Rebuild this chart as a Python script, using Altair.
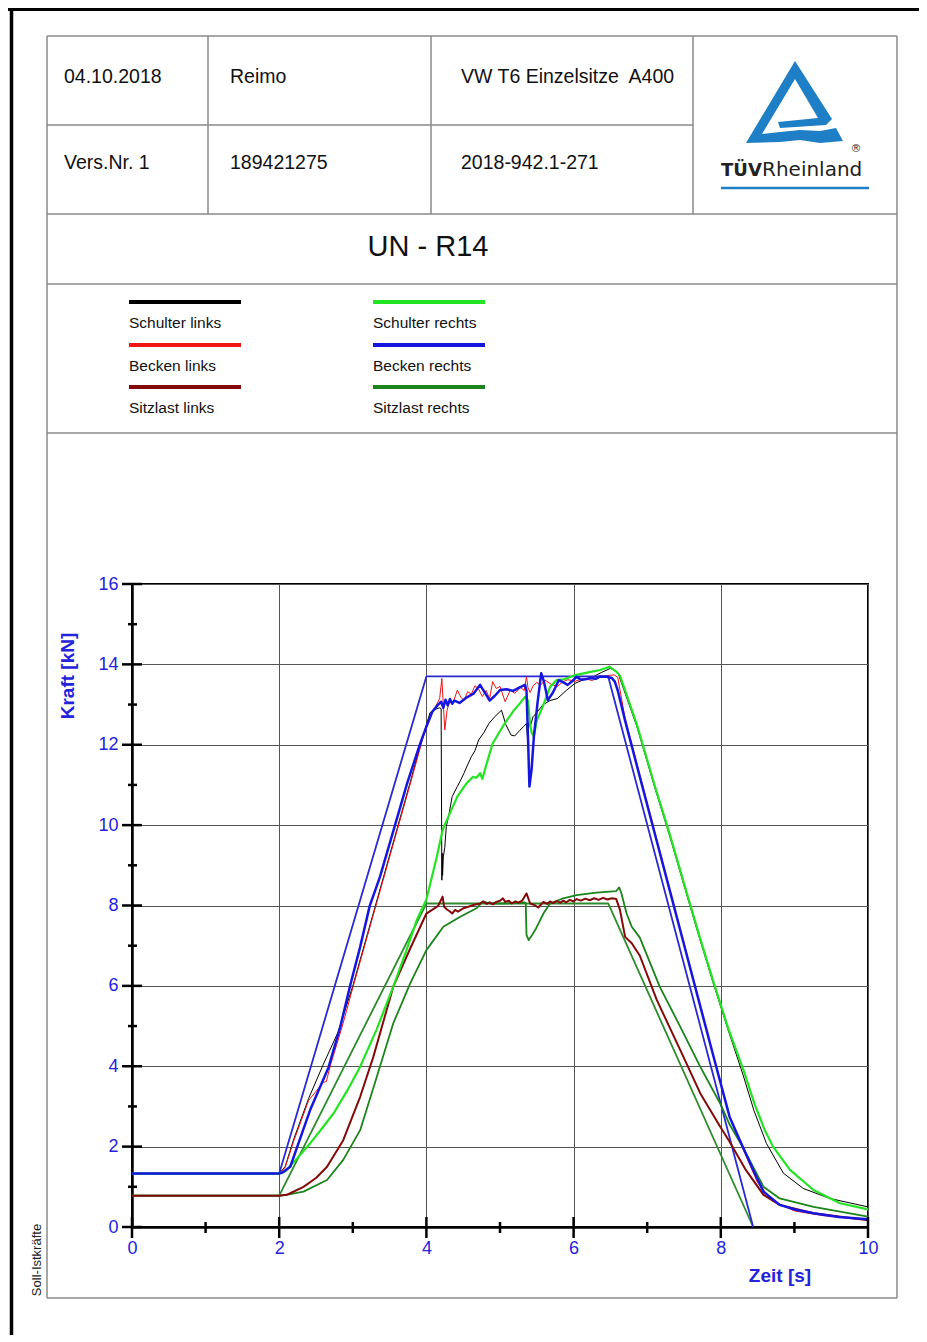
import altair as alt
import pandas as pd

FONT = "Liberation Sans"
AXIS_BLUE = "#2323dc"
LOGO_BLUE = "#1f7fc6"
TABLE_GREY = "#8a8a8a"

# ---------------- texts ----------------
header_row1 = ["04.10.2018", "Reimo", "VW T6 Einzelsitze\u00a0 A400"]
header_row2 = ["Vers.Nr. 1", "189421275", "2018-942.1-271"]
title_text = "UN - R14"
logo_bold = "TÜV"
logo_regular = "Rheinland"
side_label = "Soll-Istkräfte"
x_title = "Zeit [s]"
y_title = "Kraft [kN]"

series_names = ["Schulter links", "Becken links", "Sitzlast links",
                "Schulter rechts", "Becken rechts", "Sitzlast rechts"]
series_colors = ["#000000", "#f01414", "#840a0a", "#22e422", "#1616e0", "#1b841b"]
soll_colors = ["#2a2ad0", "#2e8b2e"]

x_ticks_major = [0, 2, 4, 6, 8, 10]
x_ticks_minor = [1, 3, 5, 7, 9]
y_ticks_major = [0, 2, 4, 6, 8, 10, 12, 14, 16]
y_ticks_minor = [1, 3, 5, 7, 9, 11, 13, 15]

# ---------------- data (time s, force kN) ----------------
t_soll = [0, 2.0, 4.0, 6.47, 8.44]
f_soll_sb = [1.33, 1.33, 13.7, 13.7, 0.0]
f_soll_sitz = [0.78, 0.78, 8.05, 8.05, 0.0]

# Becken rechts (blue)
t_br = [0, 2.0, 2.05, 2.15, 2.24, 2.42, 2.67, 2.83, 2.96, 3.10, 3.23, 3.37, 3.55, 3.74, 3.91,
        4.0, 4.08, 4.15, 4.2, 4.23, 4.26, 4.29, 4.32, 4.35, 4.38, 4.45, 4.55, 4.64, 4.73, 4.80,
        4.86, 4.93, 5.0, 5.09, 5.18, 5.26, 5.34, 5.36, 5.38, 5.40, 5.43, 5.46, 5.51, 5.56, 5.60,
        5.65, 5.72, 5.80, 5.86, 5.92, 5.98, 6.04, 6.10, 6.16, 6.24, 6.30, 6.36, 6.45, 6.52, 6.56,
        6.6, 6.7, 6.9, 7.1, 7.3, 7.5, 7.7, 7.9, 8.12, 8.26, 8.44, 8.58, 8.80, 9.02, 9.26, 9.60, 10.0]
f_br = [1.33, 1.33, 1.36, 1.50, 1.97, 2.91, 3.97, 4.98, 5.98, 6.97, 7.99, 8.72, 9.85, 11.05, 12.0,
        12.45, 12.82, 12.98, 13.07, 12.92, 13.12, 12.98, 13.14, 13.02, 13.10, 13.04, 13.18, 13.27, 13.49, 13.28,
        13.10, 13.22, 13.36, 13.38, 13.34, 13.42, 13.49, 13.35, 12.2, 10.96, 11.4, 12.20, 13.05, 13.78, 13.55,
        13.11, 13.3, 13.61, 13.55, 13.49, 13.58, 13.69, 13.62, 13.63, 13.66, 13.64, 13.70, 13.69, 13.66, 13.57,
        13.35, 12.6, 11.2, 9.81, 8.42, 7.03, 5.64, 4.25, 2.74, 2.15, 1.42, 0.88, 0.55, 0.43, 0.34, 0.25, 0.19]

# Becken links (red)
t_bl = [0, 2.0, 2.08, 2.2, 2.4, 2.6, 2.64, 2.7, 2.85, 3.0, 3.2, 3.4, 3.6, 3.8, 3.95, 4.05, 4.12,
        4.18, 4.21, 4.23, 4.25, 4.28, 4.32, 4.36, 4.42, 4.47, 4.51, 4.56, 4.61, 4.66, 4.71, 4.76,
        4.81, 4.86, 4.90, 4.95, 5.0, 5.07, 5.14, 5.2, 5.28, 5.33, 5.36, 5.38, 5.41, 5.45, 5.50,
        5.55, 5.61, 5.7, 5.78, 5.85, 5.92, 6.02, 6.14, 6.25, 6.36, 6.45, 6.55, 6.6, 6.7, 6.9, 7.1,
        7.3, 7.5, 7.7, 7.9, 8.12, 8.3, 8.5, 8.7, 9.0, 9.4, 10.0]
f_bl = [1.33, 1.33, 1.48, 2.15, 3.15, 3.6, 3.62, 4.05, 4.95, 5.95, 7.25, 8.55, 9.85, 11.15, 12.15, 12.7, 12.93,
        13.15, 13.65, 13.0, 12.37, 12.85, 13.12, 13.02, 13.36, 13.18, 13.1, 13.32, 13.26, 13.47, 13.38, 13.2,
        13.35, 13.15, 13.57, 13.4, 13.45, 13.07, 13.36, 13.28, 13.42, 13.35, 13.7, 13.42, 13.3, 13.47, 13.55,
        13.48, 13.61, 13.5, 13.45, 13.56, 13.62, 13.58, 13.65, 13.6, 13.68, 13.72, 13.74, 13.68, 12.65, 11.25, 9.85,
        8.45, 7.05, 5.65, 4.25, 2.74, 1.95, 1.1, 0.65, 0.4, 0.28, 0.19]

# Schulter links (black)
t_sl = [0, 2.0, 2.08, 2.2, 2.4, 2.6, 2.8, 3.0, 3.2, 3.4, 3.6, 3.8, 3.95, 4.05, 4.12, 4.18, 4.2,
        4.21, 4.215, 4.22, 4.23, 4.25, 4.27, 4.31, 4.35, 4.42, 4.46, 4.51, 4.56, 4.61, 4.66, 4.71,
        4.78, 4.85, 4.93, 5.02, 5.08, 5.15, 5.2, 5.27, 5.32, 5.36, 5.38, 5.39, 5.41, 5.45, 5.5, 5.58,
        5.68, 5.78, 5.9, 6.02, 6.14, 6.26, 6.38, 6.5, 6.6, 6.86, 7.1, 7.31, 7.5, 7.7, 7.9, 8.1, 8.3,
        8.45, 8.62, 8.85, 9.12, 9.48, 10.0]
f_sl = [1.33, 1.33, 1.5, 2.2, 3.2, 4.05, 4.85, 6.0, 7.3, 8.6, 9.9, 11.2, 12.2, 12.8, 12.88, 12.92, 12.9,
        8.63, 9.3, 8.75, 9.21, 9.45, 9.96, 10.3, 10.71, 10.96, 11.1, 11.29, 11.5, 11.70, 11.85, 12.12,
        12.3, 12.53, 12.7, 12.86, 12.5, 12.24, 12.22, 12.36, 12.45, 12.53, 12.0, 12.55, 12.45, 12.7, 12.8, 12.99,
        13.1, 13.15, 13.35, 13.53, 13.62, 13.69, 13.8, 13.9, 13.8, 12.45, 10.95, 9.7, 8.5, 7.25, 6.05, 4.9, 3.8,
        2.9, 2.08, 1.34, 0.96, 0.71, 0.5]

# Schulter rechts (light green)
t_sr = [0, 2.0, 2.08, 2.25, 2.42, 2.58, 2.74, 2.92, 3.10, 3.32, 3.55, 3.73, 3.87, 4.0, 4.14, 4.22,
        4.32, 4.42, 4.55, 4.63, 4.68, 4.73, 4.76, 4.83, 4.90, 5.05, 5.19, 5.27, 5.34, 5.38, 5.41, 5.43,
        5.46, 5.50, 5.58, 5.68, 5.77, 5.87, 6.04, 6.2, 6.36, 6.49, 6.58, 6.63, 6.86, 7.1, 7.31, 7.5,
        7.7, 7.9, 8.1, 8.31, 8.46, 8.6, 8.71, 8.94, 9.26, 9.62, 10.0]
f_sr = [1.33, 1.33, 1.38, 1.72, 2.08, 2.45, 2.83, 3.38, 3.99, 4.90, 5.98, 6.89, 7.64, 8.15, 9.2, 9.88,
        10.3, 10.71, 11.05, 11.2, 11.18, 11.29, 11.15, 11.6, 12.03, 12.49, 12.86, 13.03, 13.19, 13.1, 12.5, 12.3,
        12.2, 12.6, 12.95, 13.44, 13.61, 13.63, 13.74, 13.8, 13.86, 13.94, 13.82, 13.72, 12.5, 11.0, 9.75, 8.55,
        7.3, 6.1, 4.95, 3.9, 3.05, 2.4, 2.0, 1.42, 0.92, 0.59, 0.44]

# Sitzlast links (dark red)
t_sil = [0, 2.0, 2.1, 2.15, 2.33, 2.5, 2.65, 2.87, 3.10, 3.28, 3.55, 3.78, 4.0, 4.16, 4.22, 4.24,
         4.28, 4.32, 4.35, 4.39, 4.43, 4.5, 4.57, 4.65, 4.73, 4.77, 4.82, 4.86, 4.9, 4.95, 5.0, 5.04,
         5.07, 5.12, 5.16, 5.21, 5.25, 5.3, 5.36, 5.41, 5.47, 5.52, 5.59, 5.64, 5.68, 5.72, 5.77, 5.82,
         5.86, 5.9, 5.95, 6.0, 6.04, 6.1, 6.16, 6.22, 6.28, 6.34, 6.40, 6.46, 6.52, 6.58, 6.63, 6.70,
         6.79, 6.90, 7.13, 7.45, 7.72, 7.99, 8.12, 8.34, 8.58, 8.80, 9.26, 10.0]
f_sil = [0.78, 0.78, 0.8, 0.84, 1.00, 1.22, 1.50, 2.16, 3.24, 4.24, 5.98, 6.93, 7.8, 7.99, 8.22, 7.97,
         7.9, 7.85, 7.8, 7.89, 7.85, 7.93, 7.97, 8.02, 8.05, 8.1, 8.04, 8.08, 8.03, 8.09, 8.12, 8.18,
         8.09, 8.12, 8.05, 8.1, 8.07, 8.12, 8.3, 8.05, 8.01, 7.95, 8.09, 8.04, 8.1, 8.06, 8.11, 8.07,
         8.12, 8.08, 8.14, 8.1, 8.16, 8.12, 8.17, 8.13, 8.18, 8.14, 8.19, 8.15, 8.18, 8.16, 7.89, 7.22,
         7.06, 6.75, 5.65, 4.40, 3.33, 2.50, 2.12, 1.42, 0.80, 0.55, 0.34, 0.17]

# Sitzlast rechts (dark green)
t_sir = [0, 2.0, 2.1, 2.33, 2.65, 2.87, 3.10, 3.32, 3.55, 3.78, 4.0, 4.23, 4.46, 4.68, 4.77, 4.86,
         5.04, 5.22, 5.33, 5.35, 5.36, 5.39, 5.42, 5.49, 5.59, 5.68, 5.86, 6.04, 6.31, 6.58, 6.62, 6.65,
         6.72, 6.79, 6.90, 7.17, 7.45, 7.72, 7.99, 8.12, 8.31, 8.58, 8.80, 9.26, 10.0]
f_sir = [0.78, 0.78, 0.8, 0.88, 1.17, 1.67, 2.41, 3.7, 5.07, 6.06, 6.89, 7.47, 7.72, 7.93, 8.1, 8.05,
         8.05, 8.06, 8.08, 8.05, 7.27, 7.14, 7.22, 7.43, 7.80, 8.05, 8.18, 8.26, 8.32, 8.36, 8.45, 8.3,
         7.80, 7.47, 7.2, 5.98, 4.98, 3.99, 3.08, 2.55, 1.95, 1.00, 0.71, 0.50, 0.26]

# ---------------- layout helpers ----------------
W, H = 736, 643          # plot area
X0, Y0 = 132, 584        # page position of the plot origin
one = pd.DataFrame({"k": [0]})

xsc = alt.Scale(domain=[0, 10], nice=False, zero=False)
ysc = alt.Scale(domain=[0, 16], nice=False, zero=False)
xaxis = alt.Axis(values=x_ticks_major, grid=True, gridColor="#555555", gridWidth=1,
                 ticks=False, tickSize=0, domainColor="#000000", domainWidth=2.5,
                 labelColor=AXIS_BLUE, labelFontSize=18, labelFont=FONT, labelPadding=12,
                 labelFlush=False, labelOverlap=False, title=None)
yaxis = alt.Axis(values=y_ticks_major, grid=True, gridColor="#555555", gridWidth=1,
                 ticks=False, tickSize=0, domainColor="#000000", domainWidth=2.5,
                 labelColor=AXIS_BLUE, labelFontSize=18, labelFont=FONT, labelPadding=14,
                 labelFlush=False, labelOverlap=False, title=None)


def hline(x1, x2, y, color=TABLE_GREY, w=1.5):
    return alt.Chart(one).mark_rule(color=color, strokeWidth=w).encode(
        x=alt.value(x1 - X0), x2=alt.value(x2 - X0), y=alt.value(y - Y0))


def vline(x, y1, y2, color=TABLE_GREY, w=1.5):
    return alt.Chart(one).mark_rule(color=color, strokeWidth=w).encode(
        x=alt.value(x - X0), y=alt.value(y1 - Y0), y2=alt.value(y2 - Y0))


def txt(s, x, y, size, align="left", weight="normal", color="#111111", angle=0,
        baseline="middle", font=FONT):
    return alt.Chart(one).mark_text(text=s, align=align, baseline=baseline, fontSize=size,
                                    fontWeight=weight, color=color, angle=angle, font=font).encode(
        x=alt.value(x - X0), y=alt.value(y - Y0))


def line(t, f, color, width):
    df = pd.DataFrame({"t": t, "f": f, "i": list(range(len(t)))})
    return alt.Chart(df).mark_line(color=color, strokeWidth=width, strokeJoin="round").encode(
        x=alt.X("t:Q", scale=xsc, axis=xaxis),
        y=alt.Y("f:Q", scale=ysc, axis=yaxis),
        order=alt.Order("i:Q"))


def xtick(vals, up, down):
    return alt.Chart(pd.DataFrame({"v": vals})).mark_rule(color="#000000", strokeWidth=2.5).encode(
        x=alt.X("v:Q", scale=xsc, axis=xaxis), y=alt.value(H - up), y2=alt.value(H + down))


def ytick(vals, left, right):
    return alt.Chart(pd.DataFrame({"v": vals})).mark_rule(color="#000000", strokeWidth=2.5).encode(
        y=alt.Y("v:Q", scale=ysc, axis=yaxis), x=alt.value(-left), x2=alt.value(right))


decor = []
# outer page frame
decor.append(hline(8, 919, 9.5, color="#000000", w=3))
decor.append(vline(11.5, 8, 1342, color="#000000", w=3.5))
# table grid
for yy in [36, 214, 284, 433, 1298]:
    decor.append(hline(47, 897, yy))
decor.append(hline(47, 693, 125))
decor.append(vline(47, 36, 1298))
decor.append(vline(897, 36, 1298))
for xx in [208, 431, 693]:
    decor.append(vline(xx, 36, 214))

# header texts
for s, xx in zip(header_row1, [64, 230, 461]):
    decor.append(txt(s, xx, 77, 19.5))
for s, xx in zip(header_row2, [64, 230, 461]):
    decor.append(txt(s, xx, 163, 19.5))
decor.append(txt(title_text, 428, 247, 29, align="center"))

# logo
logo_path = ("M0,-0.863 L0.779,0.358 L0.653,0.484 L-0.316,0.547 L-0.358,0.421 L0.484,0.337 "
             "L0,-0.484 L-0.695,0.674 L-0.316,0.632 L0.105,0.589 L0.526,0.611 L0.863,0.547 "
             "L1.011,0.821 L0.526,0.863 L0.105,0.8 L-0.316,0.842 L-1.032,0.863 Z")
decor.append(alt.Chart(one).mark_point(shape=logo_path, size=9025, filled=True, opacity=1,
                                       color=LOGO_BLUE, strokeWidth=0).encode(
    x=alt.value(795 - X0), y=alt.value(102 - Y0)))
decor.append(txt(logo_bold, 721, 176, 18, weight="bold", baseline="alphabetic",
                 color="#222222", font="DejaVu Sans"))
decor.append(txt(logo_regular, 762, 176, 20, baseline="alphabetic",
                 color="#222222", font="DejaVu Sans"))
decor.append(txt("®", 856, 149, 11, align="center", color="#333333", font="DejaVu Sans"))
decor.append(hline(721, 869, 188, color=LOGO_BLUE, w=2.5))

# legend
leg_x = [129, 373]
leg_y = [302, 345, 387]
for i, (name, col) in enumerate(zip(series_names, series_colors)):
    cx = leg_x[i // 3]
    cy = leg_y[i % 3]
    decor.append(hline(cx, cx + 112, cy, color=col, w=4))
    decor.append(txt(name, cx, cy + 21, 15.5))

# axis titles and side label
decor.append(txt(y_title, 68, 676, 19, align="center", weight="bold", color=AXIS_BLUE, angle=270))
decor.append(txt(x_title, 780, 1276, 19, align="center", weight="bold", color=AXIS_BLUE))
decor.append(txt(side_label, 37, 1260, 13, align="center", angle=270, color="#222222"))

data_layers = [
    line(t_sl, f_sl, series_colors[0], 1.0),
    line(t_bl, f_bl, series_colors[1], 1.0),
    line(t_soll, f_soll_sitz, soll_colors[1], 1.8),
    line(t_soll, f_soll_sb, soll_colors[0], 1.8),
    line(t_sir, f_sir, series_colors[5], 1.8),
    line(t_sil, f_sil, series_colors[2], 2.0),
    line(t_sr, f_sr, series_colors[3], 2.2),
    line(t_br, f_br, series_colors[4], 2.5),
]

tick_layers = [
    xtick(x_ticks_major, 10, 11),
    xtick(x_ticks_minor, 5, 6),
    ytick(y_ticks_major, 10, 10),
    ytick(y_ticks_minor, 4, 5),
]

chart = alt.layer(*data_layers, *tick_layers, *decor).properties(
    width=W, height=H,
    autosize=alt.AutoSizeParams(type="none"),
    padding={"left": X0 - 8, "top": Y0 - 8, "right": 919 - X0 - W, "bottom": 1335 - Y0 - H},
    background="white",
).configure_view(stroke="#000000", strokeWidth=2)

chart.save("out.html", embed_options={"renderer": "svg", "actions": False})
